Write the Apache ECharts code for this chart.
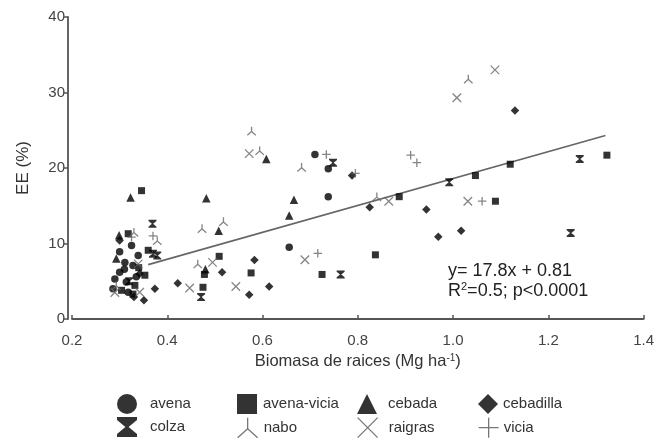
<!DOCTYPE html>
<html>
<head>
<meta charset="utf-8">
<script src="https://cdn.jsdelivr.net/npm/echarts@6/dist/echarts.min.js"></script>
<style>html,body{margin:0;padding:0;background:#fff}#c{width:657px;height:441px}</style>
</head>
<body>
<div id="c"></div>
<script>
// ---- data ----
const xTicks = [0.2, 0.4, 0.6, 0.8, 1.0, 1.2, 1.4];
const yTicks = [0, 10, 20, 30, 40];
const seriesNames = ['avena', 'avena-vicia', 'cebada', 'cebadilla', 'colza', 'nabo', 'raigras', 'vicia'];

const avena = [[0.325,9.75],[0.339,8.4],[0.311,7.5],[0.328,7.1],[0.300,6.2],[0.290,5.3],[0.314,4.9],[0.286,4.0],[0.318,3.55],[0.310,6.6],[0.335,5.6],[0.300,8.9],[0.710,21.8],[0.738,19.9],[0.738,16.2],[0.656,9.5]];
const avenaVicia = [[0.346,17.0],[0.318,11.3],[0.360,9.1],[0.353,5.8],[0.332,4.45],[0.304,3.8],[0.328,3.3],[0.340,6.8],[0.509,8.3],[0.576,6.1],[0.725,5.9],[0.478,5.9],[0.475,4.2],[0.837,8.5],[0.887,16.2],[1.047,19.0],[1.089,15.6],[1.120,20.5],[1.323,21.7]];
const cebada = [[0.323,16.1],[0.293,8.0],[0.299,11.1],[0.482,16.0],[0.666,15.8],[0.656,13.7],[0.508,11.7],[0.608,21.2],[0.480,6.6]];
const cebadilla = [[0.300,10.4],[0.342,6.0],[0.351,2.5],[0.374,4.0],[0.422,4.75],[0.515,6.2],[0.583,7.8],[0.614,4.3],[0.572,3.2],[0.788,19.0],[0.825,14.8],[0.944,14.5],[0.969,10.9],[1.017,11.7],[1.130,27.6],[0.330,2.9]];
const colza = [[0.369,12.6],[0.370,8.65],[0.379,8.4],[0.471,2.9],[0.748,20.7],[0.764,5.9],[0.992,18.1],[1.266,21.2],[1.247,11.4],[0.320,5.0]];
const nabo = [[0.379,10.4],[0.577,24.9],[0.594,22.3],[0.682,20.1],[0.473,12.0],[0.518,12.9],[0.464,7.3],[0.840,16.2],[1.032,31.8],[0.293,4.45],[0.330,11.5]];
const raigras = [[0.572,21.9],[0.689,7.85],[0.495,7.5],[0.544,4.3],[0.447,4.1],[0.865,15.6],[1.031,15.6],[1.008,29.3],[1.088,33.0],[0.339,7.3],[0.342,3.55],[0.290,3.5]];
const vicia = [[0.734,21.8],[0.716,8.7],[0.911,21.7],[0.924,20.7],[1.061,15.6],[0.325,10.85],[0.795,19.3],[0.370,11.0]];

const fitX = [0.36, 1.32];
const fitY = [7.2, 24.3];

const annotLine1 = 'y= 17.8x + 0.81';
const annotLine2 = 'R{sup|2}=0.5; p<0.0001';

// ---- styling ----
const FONT = 'Liberation Sans, Arial, sans-serif';
const SYM = {
  'avena': 'circle',
  'avena-vicia': 'rect',
  'cebada': 'triangle',
  'cebadilla': 'diamond',
  'colza': 'path://M0,0L10,0L10,1.5L5.8,5L10,8.5L10,10L0,10L0,8.5L4.2,5L0,1.5Z',
  'nabo': 'path://M5,0L5,5.5M5,5.5L0,10M5,5.5L10,10',
  'raigras': 'path://M0,0L10,10M10,0L0,10',
  'vicia': 'path://M5,0L5,10M0,5L10,5'
};
const DATA = {'avena':avena,'avena-vicia':avenaVicia,'cebada':cebada,'cebadilla':cebadilla,'colza':colza,'nabo':nabo,'raigras':raigras,'vicia':vicia};
const STROKE = {'nabo':true,'raigras':true,'vicia':true};
const SIZE = {'avena':7.5,'avena-vicia':7,'cebada':8.5,'cebadilla':8.5,'colza':8,'nabo':8.5,'raigras':8.5,'vicia':8.5};

const series = seriesNames.map(n => ({
  name: n,
  type: 'scatter',
  data: DATA[n],
  symbol: SYM[n],
  symbolSize: SIZE[n],
  itemStyle: STROKE[n] ? {color: 'transparent', borderColor: '#666', borderWidth: 1.3} : {color: '#000'},
  emphasis: {disabled: true},
  z: 3
}));
series.push({
  name: 'fit', type: 'line', data: fitX.map((x, i) => [x, fitY[i]]),
  symbol: 'none', lineStyle: {color: '#666', width: 1.6}, z: 2, silent: true
});

// legend layout: column icon lefts and text paddings
const legendPos = [
  {n:'avena', left:117, top:394, pad:8},
  {n:'avena-vicia', left:237, top:394, pad:1},
  {n:'cebada', left:357, top:394, pad:6},
  {n:'cebadilla', left:478, top:394, pad:0},
  {n:'colza', left:117, top:417, pad:8},
  {n:'nabo', left:237, top:417, pad:1},
  {n:'raigras', left:357, top:417, pad:6},
  {n:'vicia', left:478, top:417, pad:0}
];
const legends = legendPos.map(p => ({
  data: [STROKE[p.n]
    ? {name: p.n, itemStyle: {color: 'transparent', borderColor: '#555', borderWidth: 1.3}}
    : {name: p.n, itemStyle: {color: '#000', borderWidth: 0}}],
  left: p.left, top: p.top, padding: 0,
  itemWidth: 20, itemHeight: 20, selectedMode: false,
  textStyle: {fontFamily: FONT, fontSize: 15, color: '#333', padding: [0,0,0,p.pad]}
}));

const chart = echarts.init(document.getElementById('c'), null, {renderer: 'canvas'});
chart.setOption({
  animation: false,
  backgroundColor: '#fff',
  grid: {left: 72, right: 11, top: 17, bottom: 122, containLabel: false},
  title: {
    text: annotLine1 + '\n' + annotLine2,
    left: 448, top: 261, padding: 0,
    textStyle: {fontFamily: FONT, fontSize: 18, fontWeight: 'normal', color: '#222', lineHeight: 20,
      rich: {sup: {fontFamily: FONT, fontSize: 11, verticalAlign: 'top', lineHeight: 13, color: '#222'}}}
  },
  legend: legends,
  xAxis: {
    type: 'value', min: xTicks[0], max: xTicks[xTicks.length-1], interval: 0.2,
    offset: 8,
    name: 'Biomasa de raices (Mg ha{sup|-1})', nameLocation: 'middle', nameGap: 25,
    nameTextStyle: {fontFamily: FONT, fontSize: 16.5, color: '#333',
      rich: {sup: {fontFamily: FONT, fontSize: 10, verticalAlign: 'top', color: '#333'}}},
    axisLine: {show: true, lineStyle: {color: '#555', width: 1.8}},
    axisTick: {show: true, inside: true, length: 4, lineStyle: {color: '#555', width: 1.5}},
    axisLabel: {fontFamily: FONT, fontSize: 15, color: '#444', margin: 6,
      formatter: v => xTicks.includes(Math.round(v*10)/10) ? v.toFixed(1) : ''},
    splitLine: {show: false}
  },
  yAxis: {
    type: 'value', min: yTicks[0], max: yTicks[yTicks.length-1], interval: 10,
    offset: 4,
    name: 'EE (%)', nameLocation: 'middle', nameGap: 36,
    nameTextStyle: {fontFamily: FONT, fontSize: 17, color: '#333'},
    axisLine: {show: true, lineStyle: {color: '#555', width: 1.8}},
    axisTick: {show: true, inside: false, length: 4, lineStyle: {color: '#555', width: 1.5}},
    axisLabel: {fontFamily: FONT, fontSize: 15, color: '#444', margin: 3},
    splitLine: {show: false}
  },
  series: series
});
</script>
</body>
</html>
